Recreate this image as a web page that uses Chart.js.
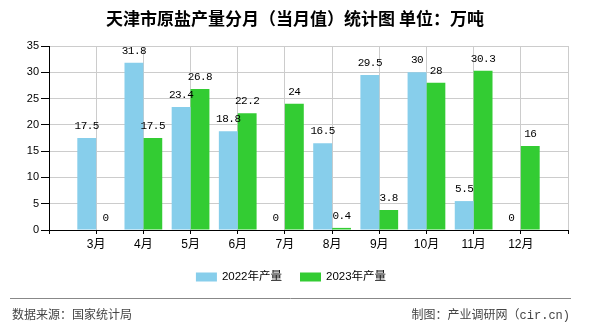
<!DOCTYPE html>
<html>
<head>
<meta charset="utf-8">
<script src="https://cdn.jsdelivr.net/npm/chart.js@4.4.0/dist/chart.umd.min.js"></script>
<style>
  body { margin: 0; background: #fff; }
  #wrap { width: 590px; height: 330px; }
</style>
</head>
<body>
<div id="wrap"><canvas id="myChart" width="590" height="330"></canvas></div>
<script>
// empty slots at both ends so the months sit on the inner ticks
const meses = ["", "3月", "4月", "5月", "6月", "7月", "8月", "9月", "10月", "11月", "12月", ""];
const producao2022 = [null, 17.5, 31.8, 23.4, 18.8, 0, 16.5, 29.5, 30, 5.5, 0, null];
const producao2023 = [null, 0, 17.5, 26.8, 22.2, 24, 0.4, 3.8, 28, 30.3, 16, null];
const ticksY = [0, 5, 10, 15, 20, 25, 30, 35];

const titulo = "天津市原盐产量分月（当月值）统计图 单位：万吨";
const fonte = "数据来源：国家统计局";
const autor = "制图：产业调研网（cir.cn)";

const fontFamily = '"Liberation Sans", "Noto Sans CJK SC", sans-serif';

const extras = {
  id: "extras",
  afterDatasetsDraw(chart) {
    const c = chart.ctx;
    c.save();
    // value labels over bars
    c.font = '11px "Liberation Mono", monospace';
    c.letterSpacing = "-0.5px";
    c.fillStyle = "#000";
    c.textAlign = "center";
    c.textBaseline = "middle";
    chart.data.datasets.forEach((ds, i) => {
      const meta = chart.getDatasetMeta(i);
      meta.data.forEach((el, j) => {
        const v = ds.data[j];
        if (v === null || v === undefined) return;
        c.fillText(String(v), el.x, el.y - 12);
      });
    });
    c.restore();
  },
  afterDraw(chart) {
    const c = chart.ctx;
    c.save();
    // title
    c.font = 'bold 17px "Noto Sans CJK SC", sans-serif';
    c.fillStyle = "#000";
    c.textAlign = "center";
    c.textBaseline = "middle";
    c.fillText(titulo, 295, 19);

    // legend
    c.font = "11.5px " + fontFamily;
    c.textAlign = "left";
    const items = chart.data.datasets;
    const boxW = 21, boxH = 9, gap = 5, spacing = 18;
    let total = 0;
    items.forEach((ds, i) => {
      total += boxW + gap + c.measureText(ds.label).width;
      if (i < items.length - 1) total += spacing;
    });
    let x = 291 - total / 2;
    const ly = 277;
    items.forEach((ds) => {
      c.fillStyle = ds.backgroundColor;
      c.fillRect(x, ly - boxH / 2, boxW, boxH);
      x += boxW + gap;
      c.fillStyle = "#000";
      c.fillText(ds.label, x, ly);
      x += c.measureText(ds.label).width + spacing;
    });

    // footer
    c.strokeStyle = "#888";
    c.lineWidth = 1;
    c.beginPath();
    c.moveTo(10, 298.5);
    c.lineTo(571, 298.5);
    c.stroke();
    c.fillStyle = "#444";
    c.font = '12px "Liberation Mono", "Noto Sans CJK SC", monospace';
    c.textAlign = "left";
    c.fillText(fonte, 12, 316);
    c.textAlign = "right";
    c.fillText(autor, 570, 316);
    c.restore();
  },
};

const ctx = document.getElementById("myChart");
const grafico = new Chart(ctx, {
  type: "bar",
  data: {
    labels: meses,
    datasets: [
      {
        label: "2022年产量",
        data: producao2022,
        backgroundColor: "#87CEEB",
        categoryPercentage: 0.8,
        barPercentage: 1,
      },
      {
        label: "2023年产量",
        data: producao2023,
        backgroundColor: "#33CC33",
        categoryPercentage: 0.8,
        barPercentage: 1,
      },
    ],
  },
  options: {
    responsive: false,
    animation: false,
    layout: { padding: { top: 46, right: 22, bottom: 0, left: 0 } },
    plugins: {
      legend: { display: false },
      title: { display: false },
      tooltip: { enabled: false },
    },
    scales: {
      x: {
        offset: false,
        grid: {
          offset: false,
          color: "#cccccc",
          tickColor: "#000",
          tickLength: 4,
        },
        border: { color: "#000", width: 1 },
        ticks: {
          color: "#000",
          font: { family: fontFamily, size: 12 },
          padding: 3,
          maxRotation: 0,
          autoSkip: false,
        },
        afterFit(scale) {
          scale.height = 100;
          scale.paddingLeft = 0;
          scale.paddingRight = 0;
        },
      },
      y: {
        min: 0,
        max: 35,
        afterBuildTicks(scale) {
          scale.ticks = ticksY.map((v) => ({ value: v }));
        },
        grid: {
          color: "#cccccc",
          tickColor: "#000",
          tickLength: 8,
        },
        border: { color: "#000", width: 1 },
        ticks: {
          color: "#000",
          font: { family: fontFamily, size: 11 },
          padding: 2,
        },
        afterFit(scale) {
          scale.width = 49;
        },
      },
    },
  },
  plugins: [extras],
});
</script>
</body>
</html>
